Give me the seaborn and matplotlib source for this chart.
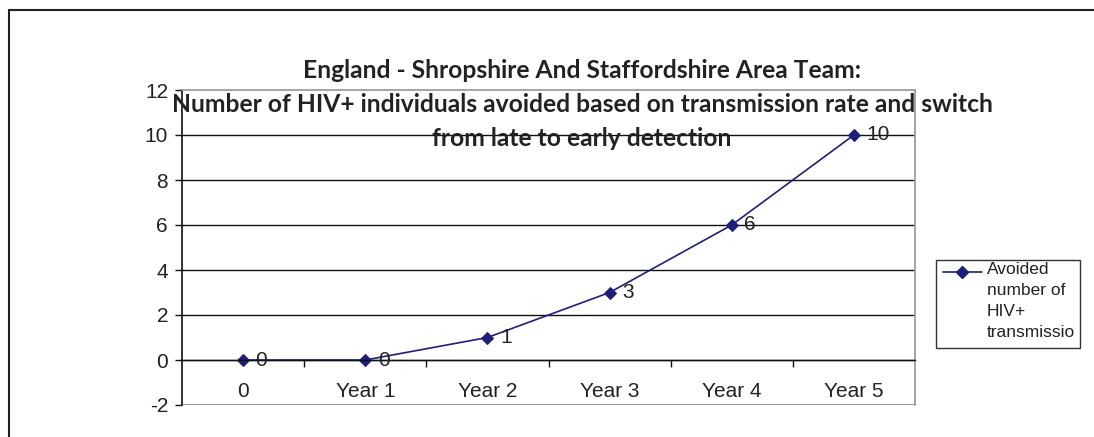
import matplotlib
matplotlib.use("Agg")
import matplotlib.pyplot as plt
import seaborn as sns
import pandas as pd
from matplotlib.lines import Line2D
from matplotlib.patches import Rectangle

categories = ["0", "Year 1", "Year 2", "Year 3", "Year 4", "Year 5"]
avoided = [0, 0, 1, 3, 6, 10]
series_label = "Avoided\nnumber of\nHIV+\ntransmissio\nns"
title_lines = ["England - Shropshire And Staffordshire Area Team:",
               "Number of HIV+ individuals avoided based on transmission rate and switch",
               "from late to early detection"]
y_ticks = [-2, 0, 2, 4, 6, 8, 10, 12]

sns.set_theme(style="white")
plt.rcParams['font.family'] = ['Liberation Sans', 'DejaVu Sans']

W, H = 1094, 437
fig = plt.figure(figsize=(W / 100, H / 100), dpi=100)
ax = fig.add_axes([182 / W, 1 - 405 / H, (915 - 182) / W, (405 - 90) / H])

df = pd.DataFrame({"cat": categories, "val": avoided})
line_color = "#1f1f7a"
sns.lineplot(data=df, x="cat", y="val", ax=ax, sort=False, color=line_color,
             marker="D", markersize=6, markeredgecolor=line_color, linewidth=1.2,
             legend=False)

ax.set_xlim(-0.5, 5.5)
ax.set_ylim(-2, 12)
ax.set_yticks(y_ticks)
ax.set_yticklabels([str(v) for v in y_ticks])
ax.set_xticks(range(len(categories)))
ax.set_xticklabels(categories)
ax.set_xlabel("")
ax.set_ylabel("")

for v in y_ticks[1:-1]:
    ax.axhline(v, color="#111111", linewidth=1.0, zorder=0.5)

# x axis crossing at 0
ax.spines['bottom'].set_position(('data', 0))
ax.spines['bottom'].set_color("#111111")
ax.spines['bottom'].set_linewidth(1.0)
ax.spines['left'].set_color("#111111")
ax.spines['left'].set_linewidth(1.2)
ax.spines['top'].set_color("#999999")
ax.spines['right'].set_color("#999999")
ax.axhline(-2, color="#999999", linewidth=1.5, zorder=0.5)

ax.set_xticks([i + 0.5 for i in range(len(categories) - 1)], minor=True)
ax.tick_params(axis='y', which='major', left=True, length=5, width=1, color="#111111",
               pad=5, labelsize=15, labelcolor="#222222")
ax.tick_params(axis='x', which='major', bottom=False, pad=10, labelsize=15, labelcolor="#222222")
ax.tick_params(axis='x', which='minor', bottom=True, length=5, width=1, color="#111111", direction='out')

for i, v in enumerate(avoided):
    ax.annotate(str(v), (i, v), xytext=(9, 0), textcoords="offset points",
                ha="left", va="center", fontsize=15, color="#222222")

# title
fig.canvas.draw()
renderer = fig.canvas.get_renderer()
ys = [70, 104, 139]
tfs = 13
t2 = fig.text(582 / W, 1 - ys[1] / H, title_lines[1], ha="center", va="center",
              fontsize=tfs, fontweight="bold", family=["Lato", "DejaVu Sans"], color="#222222")
w = t2.get_window_extent(renderer).width
tfs = tfs * 823 / w
t2.set_fontsize(tfs)
for k in (0, 2):
    fig.text(582 / W, 1 - ys[k] / H, title_lines[k], ha="center", va="center",
             fontsize=tfs, fontweight="bold", family=["Lato", "DejaVu Sans"], color="#222222")

# legend box (clipped content like the original)
lx0, lx1, ly0, ly1 = 936, 1080, 260, 348
rect = Rectangle((lx0 / W, 1 - ly1 / H), (lx1 - lx0) / W, (ly1 - ly0) / H,
                 transform=fig.transFigure, facecolor="white", edgecolor="#333333", linewidth=1.0)
fig.patches.append(rect)
fig.add_artist(Line2D([943 / W, 982 / W], [1 - 272 / H, 1 - 272 / H], transform=fig.transFigure,
                      color=line_color, linewidth=1.2))
fig.add_artist(Line2D([962 / W], [1 - 272 / H], transform=fig.transFigure,
                      color=line_color, marker="D", markersize=6, linestyle="none"))
lt = fig.text(987 / W, 1 - 262 / H, series_label, ha="left", va="top", fontsize=12.5,
              color="#222222", linespacing=1.5)
clip = Rectangle((lx0 / W, 1 - ly1 / H), (lx1 - lx0) / W, (ly1 - ly0) / H, transform=fig.transFigure)
lt.set_clip_path(clip)

# outer chart frame
fig.add_artist(Line2D([9 / W, 1.0], [1 - 10 / H, 1 - 10 / H], transform=fig.transFigure,
                      color="#222222", linewidth=1.5))
fig.add_artist(Line2D([9 / W, 9 / W], [1 - 10 / H, 0], transform=fig.transFigure,
                      color="#222222", linewidth=1.5))

fig.savefig("out.png", dpi=100, facecolor="white")
